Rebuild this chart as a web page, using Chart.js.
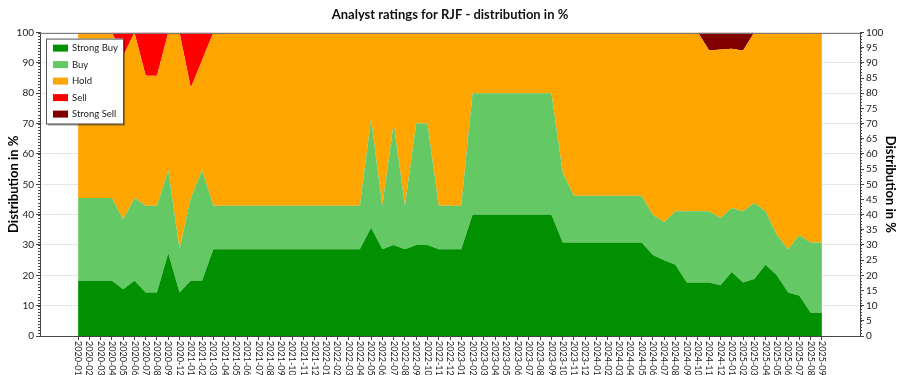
<!DOCTYPE html>
<html>
<head>
<meta charset="utf-8">
<script src="https://cdn.jsdelivr.net/npm/chart.js@4.4.0/dist/chart.umd.min.js"></script>
<style>
  html, body { margin: 0; padding: 0; background: #fff; }
  #wrap { width: 900px; height: 375px; }
</style>
</head>
<body>
<div id="wrap"><canvas id="myChart"></canvas></div>
<script>
const months = [
  '2020-01','2020-02','2020-03','2020-04','2020-05','2020-06','2020-07','2020-08','2020-09','2020-12',
  '2021-01','2021-02','2021-03','2021-04','2021-05','2021-06','2021-07','2021-08','2021-09','2021-10','2021-11','2021-12',
  '2022-01','2022-02','2022-03','2022-04','2022-05','2022-06','2022-07','2022-08','2022-09','2022-10','2022-11','2022-12',
  '2023-01','2023-02','2023-03','2023-04','2023-05','2023-06','2023-07','2023-08','2023-09','2023-10','2023-11','2023-12',
  '2024-01','2024-02','2024-03','2024-04','2024-05','2024-06','2024-07','2024-08','2024-09','2024-10','2024-11','2024-12',
  '2025-01','2025-02','2025-03','2025-04','2025-05','2025-06','2025-07','2025-08','2025-09'
];
const strongBuy = [
  18.2,18.2,18.2,18.2,15.4,18.2,14.3,14.3,27.3,14.3,
  18.2,18.2,28.6,28.6,28.6,28.6,28.6,28.6,28.6,28.6,28.6,28.6,
  28.6,28.6,28.6,28.6,35.7,28.6,30.0,28.6,30.0,30.0,28.6,28.6,
  28.6,40,40,40,40,40,40,40,40,30.8,30.8,30.8,
  30.8,30.8,30.8,30.8,30.8,26.7,25.0,23.5,17.6,17.6,17.6,16.7,
  21.1,17.6,18.8,23.5,20.0,14.3,13.3,7.7,7.7
];
const buy = [
  27.3,27.3,27.3,27.3,23.1,27.3,28.6,28.6,27.3,14.3,
  27.3,36.4,14.3,14.3,14.3,14.3,14.3,14.3,14.3,14.3,14.3,14.3,
  14.3,14.3,14.3,14.3,35.7,14.3,40.0,14.3,40.0,40.0,14.3,14.3,
  14.3,40,40,40,40,40,40,40,40,23.1,15.4,15.4,
  15.4,15.4,15.4,15.4,15.4,13.3,12.5,17.6,23.5,23.5,23.5,22.2,
  21.1,23.5,25.0,17.6,13.3,14.3,20.0,23.1,23.1
];
const hold = [
  54.5,54.5,54.5,54.5,53.8,54.5,42.9,42.9,45.4,71.4,
  36.3,36.3,57.1,57.1,57.1,57.1,57.1,57.1,57.1,57.1,57.1,57.1,
  57.1,57.1,57.1,57.1,28.6,57.1,30.0,57.1,30.0,30.0,57.1,57.1,
  57.1,20,20,20,20,20,20,20,20,46.1,53.8,53.8,
  53.8,53.8,53.8,53.8,53.8,60.0,62.5,58.9,58.9,58.9,53.0,55.5,
  52.5,53.0,56.2,58.9,66.7,71.4,66.7,69.2,69.2
];
const sell = [
  0,0,0,0,7.7,0,14.3,14.3,0,0,
  18.2,9.1,0,0,0,0,0,0,0,0,0,0,
  0,0,0,0,0,0,0,0,0,0,0,0,
  0,0,0,0,0,0,0,0,0,0,0,0,
  0,0,0,0,0,0,0,0,0,0,0,0,
  0,0,0,0,0,0,0,0,0
];
const strongSell = [
  0,0,0,0,0,0,0,0,0,0,
  0,0,0,0,0,0,0,0,0,0,0,0,
  0,0,0,0,0,0,0,0,0,0,0,0,
  0,0,0,0,0,0,0,0,0,0,0,0,
  0,0,0,0,0,0,0,0,0,0,5.9,5.6,
  5.3,5.9,0,0,0,0,0,0,0
];
const seriesNames = ['Strong Buy', 'Buy', 'Hold', 'Sell', 'Strong Sell'];
const seriesColors = ['#009000', '#64c864', '#ffa500', '#ff0000', '#800000'];
const yTicksLeft = [0, 10, 20, 30, 40, 50, 60, 70, 80, 90, 100];

const FONT = 'Lato';
const toPoints = arr => arr.map((v, i) => ({ x: i, y: v }));
const allSeries = [strongBuy, buy, hold, sell, strongSell];

const datasets = allSeries.map((arr, k) => ({
  label: seriesNames[k],
  data: toPoints(arr),
  backgroundColor: seriesColors[k],
  borderColor: seriesColors[k],
  borderWidth: 0,
  pointRadius: 0,
  tension: 0,
  fill: k === 0 ? 'origin' : '-1'
}));

// x labels (rotated top-to-bottom), minor ticks, frame top, boxed legend
const extras = {
  id: 'extras',
  afterDraw(chart) {
    const { ctx, chartArea: a, scales } = chart;
    const x = scales.x, y = scales.y;
    ctx.save();

    ctx.strokeStyle = '#7a7a7a';
    ctx.lineWidth = 1;
    ctx.beginPath();
    ctx.moveTo(a.left, Math.round(a.top) + 0.5);
    ctx.lineTo(a.right, Math.round(a.top) + 0.5);
    ctx.stroke();

    ctx.strokeStyle = '#444';
    ctx.beginPath();
    for (let v = 0; v <= 100; v++) {
      const py = Math.round(y.getPixelForValue(v)) + 0.5;
      ctx.moveTo(a.left - 2, py); ctx.lineTo(a.left, py);
      ctx.moveTo(a.right, py); ctx.lineTo(a.right + 2, py);
    }
    ctx.stroke();

    ctx.fillStyle = '#222';
    ctx.font = '9px ' + FONT;
    ctx.textAlign = 'left';
    ctx.textBaseline = 'middle';
    months.forEach((m, i) => {
      const px = x.getPixelForValue(i);
      ctx.save();
      ctx.translate(px, a.bottom + 5);
      ctx.rotate(Math.PI / 2);
      ctx.fillText(m, 0, 0);
      ctx.restore();
    });

    // legend box
    const bx = a.left + 6, by = a.top + 6, bw = 77, bh = 85;
    ctx.fillStyle = 'rgba(0,0,0,0.35)';
    ctx.fillRect(bx + 2, by + 2, bw, bh);
    ctx.fillStyle = '#fff';
    ctx.fillRect(bx, by, bw, bh);
    ctx.strokeStyle = '#555';
    ctx.strokeRect(bx + 0.5, by + 0.5, bw, bh);
    ctx.font = '9.5px ' + FONT;
    ctx.textBaseline = 'middle';
    seriesNames.forEach((name, k) => {
      const cy = by + 9.5 + k * 16.5;
      ctx.fillStyle = seriesColors[k];
      ctx.fillRect(bx + 7, cy - 3.5, 15, 7);
      ctx.fillStyle = '#222';
      ctx.fillText(name, bx + 26, cy);
    });

    ctx.restore();
  }
};

const ctx = document.getElementById('myChart').getContext('2d');
const myChart = new Chart(ctx, {
  type: 'line',
  data: { datasets: datasets },
  options: {
    responsive: true,
    maintainAspectRatio: false,
    animation: false,
    layout: { padding: { left: 0, right: 0, top: 0, bottom: 35 } },
    plugins: {
      legend: { display: false },
      tooltip: { enabled: false },
      title: {
        display: true,
        text: 'Analyst ratings for RJF - distribution in %',
        color: '#111',
        font: { family: FONT, size: 13, weight: 'bold' },
        padding: { top: 7, bottom: 10 }
      }
    },
    scales: {
      x: {
        type: 'linear',
        min: -3.38,
        max: 69.38,
        afterBuildTicks(s) { s.ticks = months.map((m, i) => ({ value: i })); },
        ticks: { display: false },
        grid: { drawOnChartArea: false, tickLength: 4, tickColor: '#444' },
        border: { color: '#444' }
      },
      y: {
        position: 'left',
        stacked: true,
        min: 0,
        max: 100,
        afterBuildTicks(s) { s.ticks = yTicksLeft.map(v => ({ value: v })); },
        ticks: { color: '#222', font: { family: FONT, size: 10 }, padding: 2 },
        grid: { color: '#e6e6e6', tickColor: '#444', tickLength: 4 },
        border: { color: '#444' },
        title: {
          display: true,
          text: 'Distribution in %',
          color: '#000',
          font: { family: FONT, size: 13, weight: 'bold' },
          padding: { top: 6, bottom: 0 }
        },
        afterFit(s) { s.width = 40; }
      },
      y2: {
        position: 'right',
        min: 0,
        max: 100,
        ticks: { stepSize: 5, color: '#222', font: { family: FONT, size: 10 }, padding: 2 },
        grid: { drawOnChartArea: false, tickColor: '#444', tickLength: 4 },
        border: { color: '#444' },
        title: {
          display: true,
          text: 'Distribution in %',
          color: '#000',
          font: { family: FONT, size: 13, weight: 'bold' },
          padding: { top: 2, bottom: 0 }
        },
        afterFit(s) { s.width = 40; }
      }
    }
  },
  plugins: [extras]
});
</script>
</body>
</html>
